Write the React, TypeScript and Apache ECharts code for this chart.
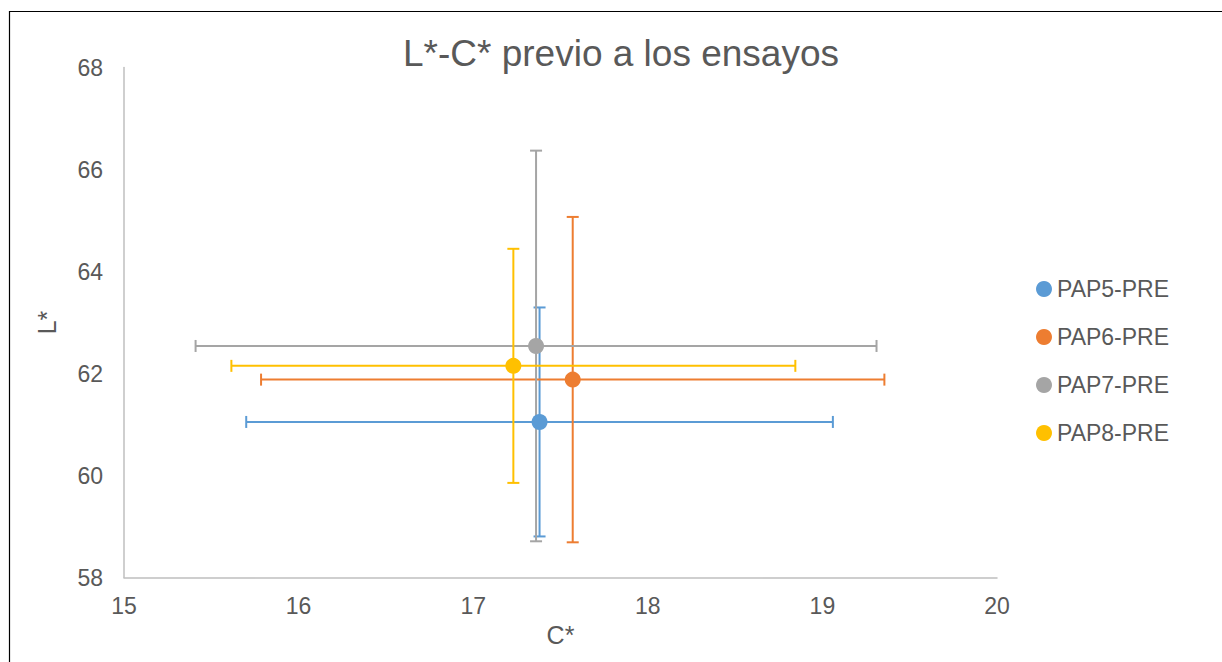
import React, { useEffect, useRef } from "react";
import * as echarts from "echarts";

const seriesNames = ["PAP5-PRE", "PAP6-PRE", "PAP7-PRE", "PAP8-PRE"];
const seriesColors = ["#5B9BD5", "#ED7D31", "#A5A5A5", "#FFC000"];
const cValues = [17.38, 17.57, 17.36, 17.23];
const lValues = [61.05, 61.88, 62.54, 62.15];
const cErrors = [1.68, 1.785, 1.95, 1.615];
const lErrors = [2.245, 3.19, 3.83, 2.295];
const xTicks = { min: 15, max: 20, interval: 1 };
const yTicks = { min: 58, max: 68, interval: 2 };

const FONT = "'Liberation Sans', Arial, sans-serif";
const TEXT = "#595959";

export default function App() {
  const ref = useRef<HTMLDivElement>(null);
  useEffect(() => {
    if (!ref.current) return;
    const chart = echarts.init(ref.current, undefined, { renderer: "svg" });

    const errorSeries = seriesNames.map((name, i) => ({
      type: "custom",
      name: name + " error",
      z: 2,
      silent: true,
      data: [[cValues[i], lValues[i], cErrors[i], lErrors[i]]],
      renderItem: (params: any, api: any) => {
        const x = api.value(0);
        const y = api.value(1);
        const ex = api.value(2);
        const ey = api.value(3);
        const pL = api.coord([x - ex, y]);
        const pR = api.coord([x + ex, y]);
        const pT = api.coord([x, y + ey]);
        const pB = api.coord([x, y - ey]);
        const cap = 6;
        const style = { stroke: seriesColors[i], lineWidth: 2 };
        const mk = (x1: number, y1: number, x2: number, y2: number) => ({
          type: "line",
          shape: { x1, y1, x2, y2 },
          style,
        });
        return {
          type: "group",
          children: [
            mk(pL[0], pL[1], pR[0], pR[1]),
            mk(pL[0], pL[1] - cap, pL[0], pL[1] + cap),
            mk(pR[0], pR[1] - cap, pR[0], pR[1] + cap),
            mk(pT[0], pT[1], pB[0], pB[1]),
            mk(pT[0] - cap, pT[1], pT[0] + cap, pT[1]),
            mk(pB[0] - cap, pB[1], pB[0] + cap, pB[1]),
          ],
        };
      },
    }));

    const pointSeries = seriesNames.map((name, i) => ({
      type: "scatter",
      name,
      z: 3,
      symbol: "circle",
      symbolSize: 16,
      itemStyle: { color: seriesColors[i], opacity: 1 },
      data: [[cValues[i], lValues[i]]],
    }));

    chart.setOption({
      animation: false,
      textStyle: { fontFamily: FONT },
      title: {
        text: "L*-C* previo a los ensayos",
        left: 616,
        textAlign: "center",
        top: 30,
        textStyle: { fontFamily: FONT, fontSize: 37, fontWeight: "normal", color: TEXT },
      },
      graphic: [
        {
          type: "rect",
          shape: { x: 9.5, y: 11.5, width: 1400, height: 800 },
          style: { fill: "none", stroke: "#000", lineWidth: 1.2 },
          silent: true,
        },
      ],
      legend: {
        orient: "vertical",
        left: 1031,
        top: 272,
        itemWidth: 16,
        itemHeight: 16,
        itemGap: 24,
        icon: "circle",
        data: seriesNames,
        itemStyle: { opacity: 1 },
        textStyle: { fontFamily: FONT, fontSize: 23, lineHeight: 24, color: TEXT },
      },
      grid: { left: 124, right: 225, top: 67.5, bottom: 84.5 },
      xAxis: {
        type: "value",
        min: xTicks.min,
        max: xTicks.max,
        interval: xTicks.interval,
        name: "C*",
        nameLocation: "middle",
        nameGap: 43,
        nameTextStyle: { fontFamily: FONT, fontSize: 25, color: TEXT },
        axisLine: { show: true, onZero: false, lineStyle: { color: "#BFBFBF", width: 1.5 } },
        axisTick: { show: false },
        splitLine: { show: false },
        axisLabel: { fontFamily: FONT, fontSize: 23, color: TEXT, margin: 17 },
      },
      yAxis: {
        type: "value",
        min: yTicks.min,
        max: yTicks.max,
        interval: yTicks.interval,
        name: "L*",
        nameLocation: "middle",
        nameGap: 65,
        nameTextStyle: { fontFamily: FONT, fontSize: 25, color: TEXT },
        axisLine: { show: true, onZero: false, lineStyle: { color: "#BFBFBF", width: 1.5 } },
        axisTick: { show: false },
        splitLine: { show: false },
        axisLabel: { fontFamily: FONT, fontSize: 23, color: TEXT, margin: 21 },
      },
      series: [...errorSeries, ...pointSeries],
    });
    return () => chart.dispose();
  }, []);
  return (
    <div
      ref={ref}
      style={{ position: "fixed", left: 0, top: 0, width: 1222, height: 662, background: "#fff" }}
    />
  );
}
